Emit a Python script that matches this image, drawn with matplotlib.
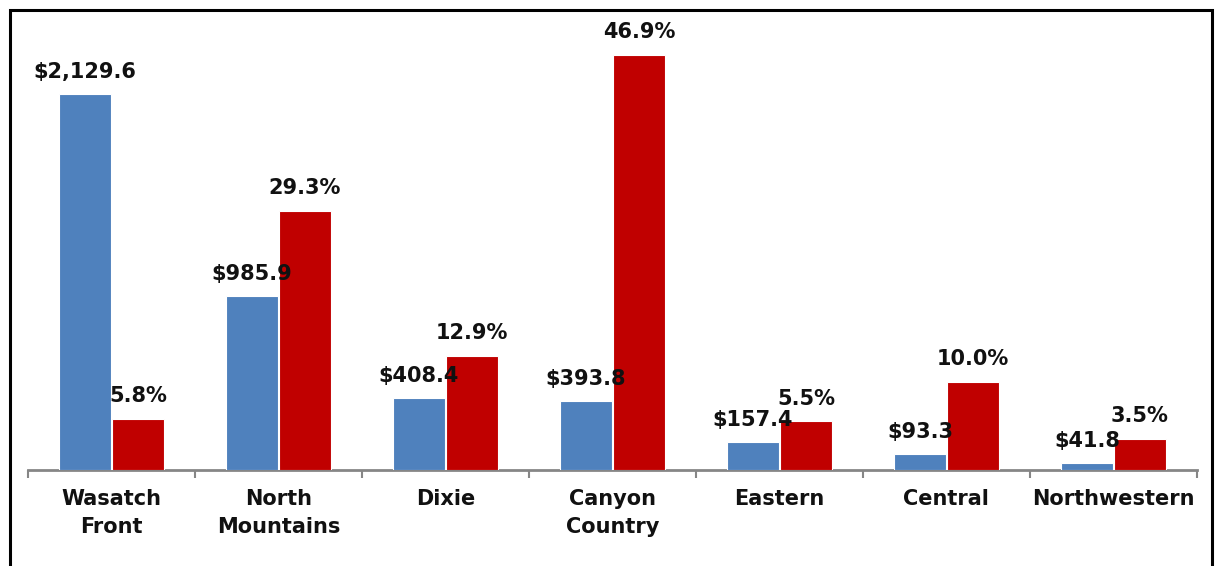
import matplotlib
matplotlib.use("Agg")
import matplotlib.pyplot as plt
from matplotlib.patches import Rectangle
import numpy as np

regions = ["Wasatch\nFront", "North\nMountains", "Dixie", "Canyon\nCountry",
           "Eastern", "Central", "Northwestern"]
dollars = [2129.6, 985.9, 408.4, 393.8, 157.4, 93.3, 41.8]
percent = [5.8, 29.3, 12.9, 46.9, 5.5, 10.0, 3.5]

BLUE = "#4F81BD"
RED = "#C00000"
AXIS_GRAY = "#868686"
FONT = "DejaVu Sans"
FS = 15

fig = plt.figure(figsize=(12.17, 5.66), dpi=100)
ax = fig.add_axes([0.0230, 0.1696, 0.9605, 0.8127])
ax2 = ax.twinx()

x = np.arange(len(regions))
w = 0.315
off = 0.159

b1 = ax.bar(x - off, dollars, w, color=BLUE, edgecolor="white", linewidth=0.8, zorder=3)
b2 = ax2.bar(x + off, percent, w, color=RED, edgecolor="white", linewidth=0.8, zorder=3)

ax.set_ylim(0, 2607)
ax2.set_ylim(0, 52.0)
ax.set_xlim(-0.5, len(regions) - 0.5)

# value labels live on the upper axes so neither series hides them
for rect, v in zip(b1, dollars):
    ax2.annotate(f"${v:,.1f}", (rect.get_x() + rect.get_width() / 2, v),
                 xycoords=ax.transData,
                 xytext=(0, 11.5), textcoords="offset points",
                 ha="center", va="baseline", fontsize=FS, fontweight="bold",
                 family=FONT, color="#111111", zorder=5)
for rect, v in zip(b2, percent):
    ax2.annotate(f"{v:.1f}%", (rect.get_x() + rect.get_width() / 2, v),
                 xytext=(0, 12), textcoords="offset points",
                 ha="center", va="baseline", fontsize=FS, fontweight="bold",
                 family=FONT, color="#111111", zorder=5)

for a in (ax, ax2):
    for s in ("top", "left", "right"):
        a.spines[s].set_visible(False)
    a.set_yticks([])
    a.patch.set_visible(False)
ax2.spines["bottom"].set_visible(False)
ax.spines["bottom"].set_color(AXIS_GRAY)
ax.spines["bottom"].set_linewidth(2)

ax.set_xticks(x)
ax.set_xticklabels(regions, fontsize=FS, fontweight="bold", family=FONT,
                   color="#111111", linespacing=1.45)
ax.tick_params(axis="x", which="major", length=0, pad=14)
ax.set_xticks(np.arange(-0.5, len(regions)), minor=True)
ax.tick_params(axis="x", which="minor", length=5.5, width=1.5, color=AXIS_GRAY)

# chart-area frame
fig.patches.append(Rectangle((0.0082, -0.05), 0.9877, 1.0323, transform=fig.transFigure,
                             fill=False, edgecolor="black", linewidth=2.2, zorder=10))

fig.savefig("out.png", dpi=100)
